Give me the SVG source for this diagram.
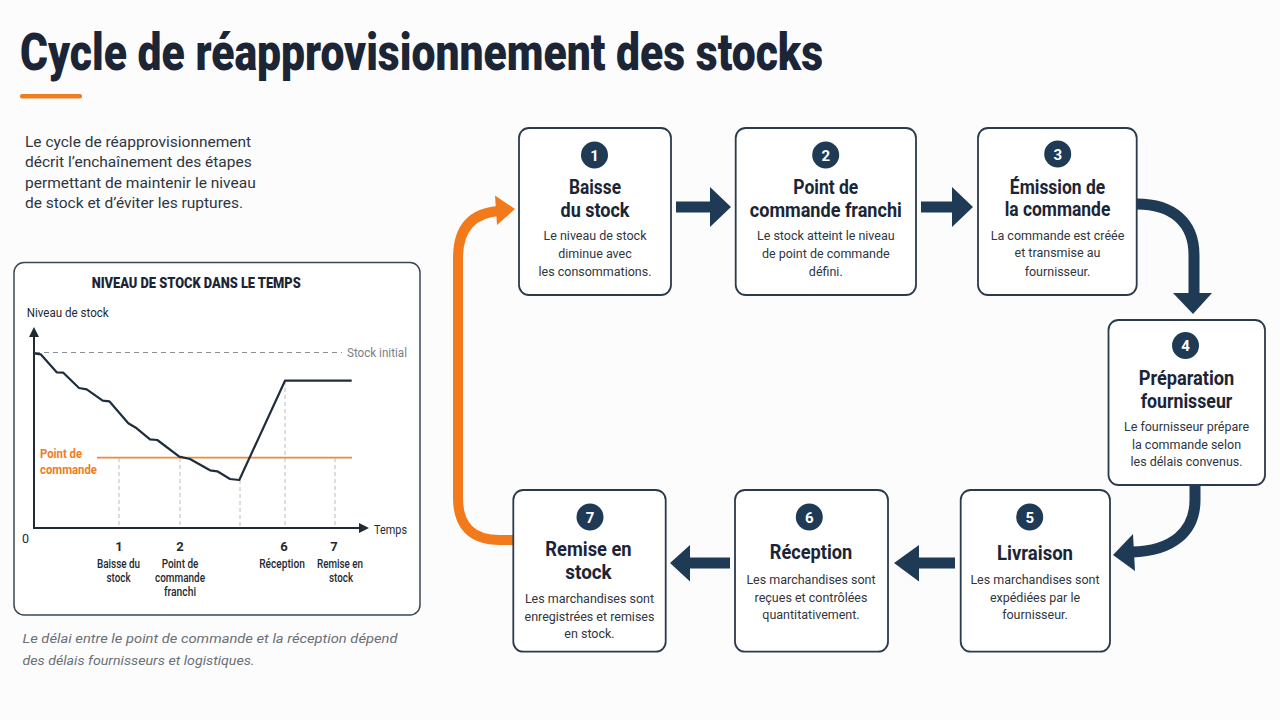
<svg xmlns="http://www.w3.org/2000/svg" width="1280" height="720" viewBox="0 0 1280 720">
<defs>
<style>
.bg{fill:#fcfcfd}
.ttl{font-family:Roboto,"Liberation Sans",sans-serif;font-weight:900;fill:#1b2536}
.body{font-family:Roboto,"Liberation Sans",sans-serif;font-size:15.5px;fill:#2f3640}
.note{font-family:Roboto,"Liberation Sans",sans-serif;font-size:13.5px;font-style:italic;fill:#6b6f76}
.box{fill:#ffffff;stroke:#2b3a4c;stroke-width:1.8}
.chartbox{fill:#ffffff;stroke:#3a4656;stroke-width:1.5}
.num{fill:#1f3a55}
.numt{font-family:Roboto,"Liberation Sans",sans-serif;font-weight:700;font-size:15px;fill:#ffffff;text-anchor:middle}
.nt{font-family:Roboto,"Liberation Sans",sans-serif;font-weight:700;font-size:20.5px;fill:#1b2536;text-anchor:middle}
.nd{font-family:Roboto,"Liberation Sans",sans-serif;font-size:12.5px;fill:#2f3640;text-anchor:middle}
.ct{font-family:Roboto,"Liberation Sans",sans-serif;font-size:12.5px;fill:#222a33}
.cl{font-family:Roboto,"Liberation Sans",sans-serif;font-size:12px;font-weight:500;fill:#222a33;text-anchor:middle}
.cn{font-family:Roboto,"Liberation Sans",sans-serif;font-weight:700;font-size:13px;fill:#222a33;text-anchor:middle}
.arr{fill:#1f3a55}
.arrs{fill:none;stroke:#1f3a55;stroke-width:11}
.orng{fill:none;stroke:#f27a1a;stroke-width:10}
.guide{stroke:#b8bcc2;stroke-width:1;stroke-dasharray:4 3;fill:none}
</style>
<marker id="axh" markerWidth="10" markerHeight="10" refX="5" refY="5" orient="auto" markerUnits="userSpaceOnUse">
<path d="M0,0 L10,5 L0,10 Z" fill="#1f2a36"/>
</marker>
</defs>
<rect class="bg" x="0" y="0" width="1280" height="720"/>

<g id="header">
<text class="ttl" x="20" y="70" font-size="52" textLength="803" lengthAdjust="spacingAndGlyphs">Cycle de réapprovisionnement des stocks</text>
<rect x="20" y="94" width="62" height="4.5" rx="2" fill="#ee7d1f"/>
<text class="body" x="25" y="146.5">Le cycle de réapprovisionnement</text>
<text class="body" x="25" y="167">décrit l’enchaînement des étapes</text>
<text class="body" x="25" y="188">permettant de maintenir le niveau</text>
<text class="body" x="25" y="208">de stock et d’éviter les ruptures.</text>
</g>

<g id="chart">
<rect class="chartbox" x="14" y="262.5" width="406" height="352.5" rx="10"/>
<text class="ttl" x="91.7" y="288" font-size="15" font-weight="700" textLength="209" lengthAdjust="spacingAndGlyphs">NIVEAU DE STOCK DANS LE TEMPS</text>
<text class="ct" x="26.7" y="317" textLength="82" lengthAdjust="spacingAndGlyphs">Niveau de stock</text>
<line x1="34" y1="528" x2="34" y2="332" stroke="#1f2a36" stroke-width="2" marker-end="url(#axh)"/>
<line x1="33" y1="528" x2="364" y2="528" stroke="#1f2a36" stroke-width="2" marker-end="url(#axh)"/>
<text class="ct" x="374" y="534" textLength="33" lengthAdjust="spacingAndGlyphs">Temps</text>
<text class="ct" x="22" y="543">0</text>
<line x1="35" y1="352.5" x2="342" y2="352.5" stroke="#8a8f96" stroke-width="1.2" stroke-dasharray="5 4"/>
<text x="347" y="357" font-family="Roboto,'Liberation Sans',sans-serif" font-size="12.5" fill="#7a7f86" textLength="60" lengthAdjust="spacingAndGlyphs">Stock initial</text>
<line class="guide" x1="119" y1="458" x2="119" y2="527"/>
<line class="guide" x1="180" y1="458" x2="180" y2="527"/>
<line class="guide" x1="240" y1="480" x2="240" y2="527"/>
<line class="guide" x1="285" y1="381" x2="285" y2="527"/>
<line class="guide" x1="335" y1="458" x2="335" y2="527"/>
<line x1="97" y1="457.7" x2="352" y2="457.7" stroke="#ef8a35" stroke-width="1.8"/>
<text x="40" y="458" font-family="Roboto,'Liberation Sans',sans-serif" font-weight="700" font-size="12.5" fill="#ee7d1f" textLength="42" lengthAdjust="spacingAndGlyphs">Point de</text>
<text x="40" y="473.5" font-family="Roboto,'Liberation Sans',sans-serif" font-weight="700" font-size="12.5" fill="#ee7d1f" textLength="57" lengthAdjust="spacingAndGlyphs">commande</text>
<polyline fill="none" stroke="#1f2d3d" stroke-width="2.2" stroke-linejoin="round" points="34,353.3 40.7,354.3 56.7,372.3 63.3,372.7 79,388 86.7,389.3 102.7,400.7 109.3,401.3 128.3,423.3 136.7,428.3 150,439.3 157.3,440 179.3,456.7 190,459 210,470.3 217.3,471.3 230,479 239.3,480 285,380.7 351.7,380.7"/>
<text class="cn" x="119" y="551">1</text>
<text class="cl" x="118.5" y="567.5" textLength="43" lengthAdjust="spacingAndGlyphs">Baisse du</text>
<text class="cl" x="118.5" y="581.5" textLength="24" lengthAdjust="spacingAndGlyphs">stock</text>
<text class="cn" x="180" y="551">2</text>
<text class="cl" x="180" y="567.5" textLength="36.7" lengthAdjust="spacingAndGlyphs">Point de</text>
<text class="cl" x="180" y="581.5" textLength="50" lengthAdjust="spacingAndGlyphs">commande</text>
<text class="cl" x="180" y="595.5" textLength="32" lengthAdjust="spacingAndGlyphs">franchi</text>
<text class="cn" x="284" y="551">6</text>
<text class="cl" x="282" y="567.5" textLength="45.7" lengthAdjust="spacingAndGlyphs">Réception</text>
<text class="cn" x="334" y="551">7</text>
<text class="cl" x="340" y="567.5" textLength="46" lengthAdjust="spacingAndGlyphs">Remise en</text>
<text class="cl" x="341" y="581.5" textLength="24" lengthAdjust="spacingAndGlyphs">stock</text>
</g>

<g id="footnote">
<text class="note" x="22.5" y="643" textLength="375" lengthAdjust="spacingAndGlyphs">Le délai entre le point de commande et la réception dépend</text>
<text class="note" x="22.5" y="665" textLength="232" lengthAdjust="spacingAndGlyphs">des délais fournisseurs et logistiques.</text>
</g>

<g id="connectors">
<polygon class="arr" points="676,201.5 710,201.5 710,187 731,207 710,227 710,212.5 676,212.5"/>
<polygon class="arr" points="921,201.5 952,201.5 952,187 973,207 952,227 952,212.5 921,212.5"/>
<path class="arrs" d="M1137,204 C1172,204 1194,222 1194,255 L1194,296"/>
<polygon class="arr" points="1173,293 1212,293 1193,314"/>
<path class="arrs" d="M1195,485 L1195,500 C1195,532 1172,551 1132,552"/>
<polygon class="arr" points="1133,534 1113,555 1135,571"/>
<polygon class="arr" points="955,557.5 919,557.5 919,545 894,563 919,581.5 919,568.5 955,568.5"/>
<polygon class="arr" points="730,557.5 690,557.5 690,545 670,563 690,581.5 690,568.5 730,568.5"/>
<path class="orng" d="M514,540 L500,540 Q458,540 458,498 L458,258 Q458,214 499,211"/>
<polygon fill="#f27a1a" points="495,195.5 515,209 497,225"/>
</g>

<g id="node1">
<rect class="box" x="519" y="128" width="152" height="167" rx="10"/>
<circle class="num" cx="594.5" cy="155" r="13.5"/>
<text class="numt" x="594.5" y="160.5">1</text>
<text class="nt" x="595" y="194" textLength="52" lengthAdjust="spacingAndGlyphs">Baisse</text>
<text class="nt" x="595" y="216.5" textLength="69" lengthAdjust="spacingAndGlyphs">du stock</text>
<text class="nd" x="595" y="240">Le niveau de stock</text>
<text class="nd" x="595" y="257.5">diminue avec</text>
<text class="nd" x="595" y="276">les consommations.</text>
</g>

<g id="node2">
<rect class="box" x="735.7" y="128" width="180.3" height="167" rx="10"/>
<circle class="num" cx="825.7" cy="155" r="13.5"/>
<text class="numt" x="825.7" y="160.5">2</text>
<text class="nt" x="825.8" y="194" textLength="65" lengthAdjust="spacingAndGlyphs">Point de</text>
<text class="nt" x="825.8" y="216.5" textLength="152" lengthAdjust="spacingAndGlyphs">commande franchi</text>
<text class="nd" x="825.8" y="240">Le stock atteint le niveau</text>
<text class="nd" x="825.8" y="257.5">de point de commande</text>
<text class="nd" x="825.8" y="276">défini.</text>
</g>

<g id="node3">
<rect class="box" x="978" y="128" width="158.7" height="167" rx="10"/>
<circle class="num" cx="1057.7" cy="154" r="13.5"/>
<text class="numt" x="1057.7" y="159.5">3</text>
<text class="nt" x="1057.5" y="193.5" textLength="95.3" lengthAdjust="spacingAndGlyphs">Émission de</text>
<text class="nt" x="1057.5" y="216" textLength="105.7" lengthAdjust="spacingAndGlyphs">la commande</text>
<text class="nd" x="1057.5" y="239.5">La commande est créée</text>
<text class="nd" x="1057.5" y="257">et transmise au</text>
<text class="nd" x="1057.5" y="275.5">fournisseur.</text>
</g>

<g id="node4">
<rect class="box" x="1108.5" y="320" width="156.5" height="165" rx="10"/>
<circle class="num" cx="1185.5" cy="345.5" r="13.5"/>
<text class="numt" x="1185.5" y="351">4</text>
<text class="nt" x="1186.5" y="384.5" textLength="95.7" lengthAdjust="spacingAndGlyphs">Préparation</text>
<text class="nt" x="1186.5" y="407.5" textLength="91.7" lengthAdjust="spacingAndGlyphs">fournisseur</text>
<text class="nd" x="1186.5" y="431">Le fournisseur prépare</text>
<text class="nd" x="1186.5" y="448.5">la commande selon</text>
<text class="nd" x="1186.5" y="466">les délais convenus.</text>
</g>

<g id="node5">
<rect class="box" x="960.7" y="490" width="149.3" height="161.7" rx="10"/>
<circle class="num" cx="1029.7" cy="517" r="13.5"/>
<text class="numt" x="1029.7" y="522.5">5</text>
<text class="nt" x="1035" y="559.5" textLength="76" lengthAdjust="spacingAndGlyphs">Livraison</text>
<text class="nd" x="1035" y="584">Les marchandises sont</text>
<text class="nd" x="1035" y="601.5">expédiées par le</text>
<text class="nd" x="1035" y="619">fournisseur.</text>
</g>

<g id="node6">
<rect class="box" x="735" y="490" width="153" height="161.7" rx="10"/>
<circle class="num" cx="809.3" cy="517" r="13.5"/>
<text class="numt" x="809.3" y="522.5">6</text>
<text class="nt" x="811" y="559" textLength="82.3" lengthAdjust="spacingAndGlyphs">Réception</text>
<text class="nd" x="811" y="584">Les marchandises sont</text>
<text class="nd" x="811" y="601.5">reçues et contrôlées</text>
<text class="nd" x="811" y="619">quantitativement.</text>
</g>

<g id="node7">
<rect class="box" x="513.3" y="490" width="152.4" height="161.7" rx="10"/>
<circle class="num" cx="590" cy="517" r="13.5"/>
<text class="numt" x="590" y="522.5">7</text>
<text class="nt" x="588.5" y="556" textLength="86.3" lengthAdjust="spacingAndGlyphs">Remise en</text>
<text class="nt" x="588.5" y="579" textLength="46.3" lengthAdjust="spacingAndGlyphs">stock</text>
<text class="nd" x="589.5" y="603">Les marchandises sont</text>
<text class="nd" x="589.5" y="620.5">enregistrées et remises</text>
<text class="nd" x="589.5" y="638">en stock.</text>
</g>
</svg>
